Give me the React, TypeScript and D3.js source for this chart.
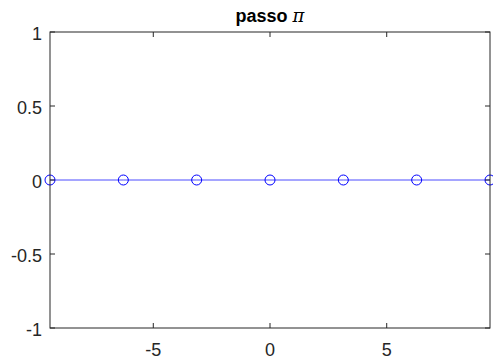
import React from "react";
import * as d3 from "d3";

const xValues = [-3 * Math.PI, -2 * Math.PI, -Math.PI, 0, Math.PI, 2 * Math.PI, 3 * Math.PI];
const yValues = [0, 0, 0, 0, 0, 0, 0];
const xTicks = [-5, 0, 5];
const yTicks = [-1, -0.5, 0, 0.5, 1];
const titleText = "passo ";
const titleSymbol = "π";

export default function App() {
  const W = 493, H = 360;
  const left = 50, right = 490, top = 32, bottom = 328;
  const x = d3.scaleLinear().domain([-3 * Math.PI, 3 * Math.PI]).range([left, right]);
  const y = d3.scaleLinear().domain([-1, 1]).range([bottom, top]);
  const pts = xValues.map((v, i) => [v, yValues[i]] as [number, number]);
  const line = d3.line<[number, number]>().x(d => x(d[0])).y(d => y(d[1]));
  const axisColor = "#262626";
  const font = "Arial, 'Liberation Sans', Helvetica, sans-serif";
  const tl = 5;
  return (
    <svg width={W} height={H} style={{ position: "absolute", left: 0, top: 0, background: "#fff" }}>
      <rect x={0} y={0} width={W} height={H} fill="#fff" />
      <path d={line(pts) || ""} fill="none" stroke="#0000ff" strokeWidth={1} strokeOpacity={0.7} />
      {pts.map((p, i) => (
        <circle key={i} cx={x(p[0])} cy={y(p[1])} r={5} fill="none" stroke="#0000ff" strokeWidth={1} />
      ))}
      <rect x={left} y={top} width={right - left} height={bottom - top} fill="none" stroke={axisColor} strokeWidth={1} />
      {xTicks.map(t => (
        <g key={"x" + t}>
          <line x1={x(t)} x2={x(t)} y1={bottom} y2={bottom - tl} stroke={axisColor} />
          <line x1={x(t)} x2={x(t)} y1={top} y2={top + tl} stroke={axisColor} />
          <text x={x(t)} y={bottom + 28} textAnchor="middle" fontFamily={font} fontSize={18} fill={axisColor}>{t}</text>
        </g>
      ))}
      {yTicks.map(t => (
        <g key={"y" + t}>
          <line x1={left} x2={left + tl} y1={y(t)} y2={y(t)} stroke={axisColor} />
          <line x1={right} x2={right - tl} y1={y(t)} y2={y(t)} stroke={axisColor} />
          <text x={left - 8} y={y(t) + 8} textAnchor="end" fontFamily={font} fontSize={18} fill={axisColor}>{t}</text>
        </g>
      ))}
      <text x={(left + right) / 2} y={22} textAnchor="middle" fontFamily={font} fontSize={18} fill="#000">
        <tspan fontWeight="bold">{titleText}</tspan>
        <tspan fontStyle="italic" fontFamily="'DejaVu Serif', serif">{titleSymbol}</tspan>
      </text>
    </svg>
  );
}
